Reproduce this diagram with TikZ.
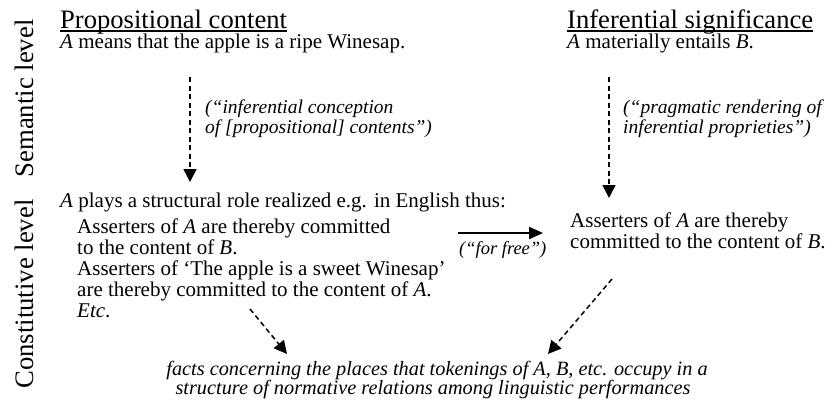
\documentclass[tikz,border=0pt]{standalone}
\usepackage{fontspec}
\usepackage{graphicx}
\setmainfont{Liberation Serif}
\usetikzlibrary{arrows.meta}
\tikzset{
  txt/.style={anchor=base west, inner sep=0pt, font=\fontsize{21}{21}\selectfont},
  ttl/.style={anchor=base west, inner sep=0pt, font=\fontsize{26.6}{26}\selectfont},
  lbl/.style={anchor=base west, inner sep=0pt, font=\fontsize{19.5}{19}\selectfont\itshape},
  freelbl/.style={anchor=base west, inner sep=0pt, font=\fontsize{18.5}{18}\selectfont\itshape},
  factlbl/.style={anchor=base, inner sep=0pt, font=\fontsize{20.3}{19}\selectfont\itshape},
  levellbl/.style={anchor=base, inner sep=0pt, rotate=90, font=\fontsize{26.7}{30}\selectfont},
  uline/.style={line width=1.4pt},
  dasharrow/.style={line width=1.5pt, dash pattern=on 5pt off 3.5pt, -{Triangle[length=13pt,width=13pt]}},
  solidarrow/.style={line width=2pt, -{Triangle[length=14pt,width=12pt]}},
}
\begin{document}
\begin{tikzpicture}[x=1pt,y=-1pt]
\useasboundingbox (0,0) rectangle (826,405);
% level labels
\node[levellbl] (sem) at (33,98.5) {Semantic level};
\node[levellbl] (con) at (33,294) {Constitutive level};
% titles
\node[ttl] (t1) at (60,28) {Propositional content};
\node[ttl] (t2) at (567,28) {Inferential significance};
\draw[uline] ([yshift=-3pt]t1.base west) -- ([yshift=-3pt]t1.base east);
\draw[uline] ([yshift=-3pt]t2.base west) -- ([yshift=-3pt]t2.base east);
% semantic level statements
\node[txt] (means) at (60,48) {\textit{A} means that the apple is a ripe Winesap.};
\node[txt] (entails) at (567,48) {\textit{A} materially entails \textit{B}.};
% arrow labels
\node[lbl] (l1a) at (205,113) {(“inferential conception};
\node[lbl] (l1b) at (205,133) {of [propositional] contents”)};
\node[lbl] (l2a) at (623,113) {(“pragmatic rendering of};
\node[lbl] (l2b) at (623,133) {inferential proprieties”)};
% constitutive level, left
\node[txt] (plays) at (60,207) {\textit{A} plays a structural role realized e.g. in English thus:};
\node[txt] (c1) at (77,233) {Asserters of \textit{A} are thereby committed};
\node[txt] (c2) at (77,254) {to the content of \textit{B}.};
\node[txt] (c3) at (77,275) {Asserters of ‘The apple is a sweet Winesap’};
\node[txt] (c4) at (77,296) {are thereby committed to the content of \textit{A}.};
\node[txt] (c5) at (77,317) {\textit{Etc}.};
% constitutive level, right
\node[txt] (r1) at (570,227) {Asserters of \textit{A} are thereby};
\node[txt] (r2) at (570,248) {committed to the content of \textit{B}.};
\node[freelbl] (free) at (459,254) {(“for free”)};
% facts
\node[factlbl] (f1) at (437,375) {facts concerning the places that tokenings of A, B, etc. occupy in a};
\node[factlbl] (f2) at (433,394) {structure of normative relations among linguistic performances};
% connector end points
\coordinate (a1s) at (190,77);
\coordinate (a1e) at (190,182);
\coordinate (a2s) at (609,77);
\coordinate (a2e) at (609,198);
\coordinate (a3s) at (458,233);
\coordinate (a3e) at (543,233);
\coordinate (a4s) at (250,309);
\coordinate (a4e) at (287,354);
\coordinate (a5s) at (612,279);
\coordinate (a5e) at (548,354);
\draw[dasharrow] (a1s) -- (a1e);
\draw[dasharrow] (a2s) -- (a2e);
\draw[solidarrow] (a3s) -- (a3e);
\draw[dasharrow] (a4s) -- (a4e);
\draw[dasharrow] (a5s) -- (a5e);
\end{tikzpicture}
\end{document}
